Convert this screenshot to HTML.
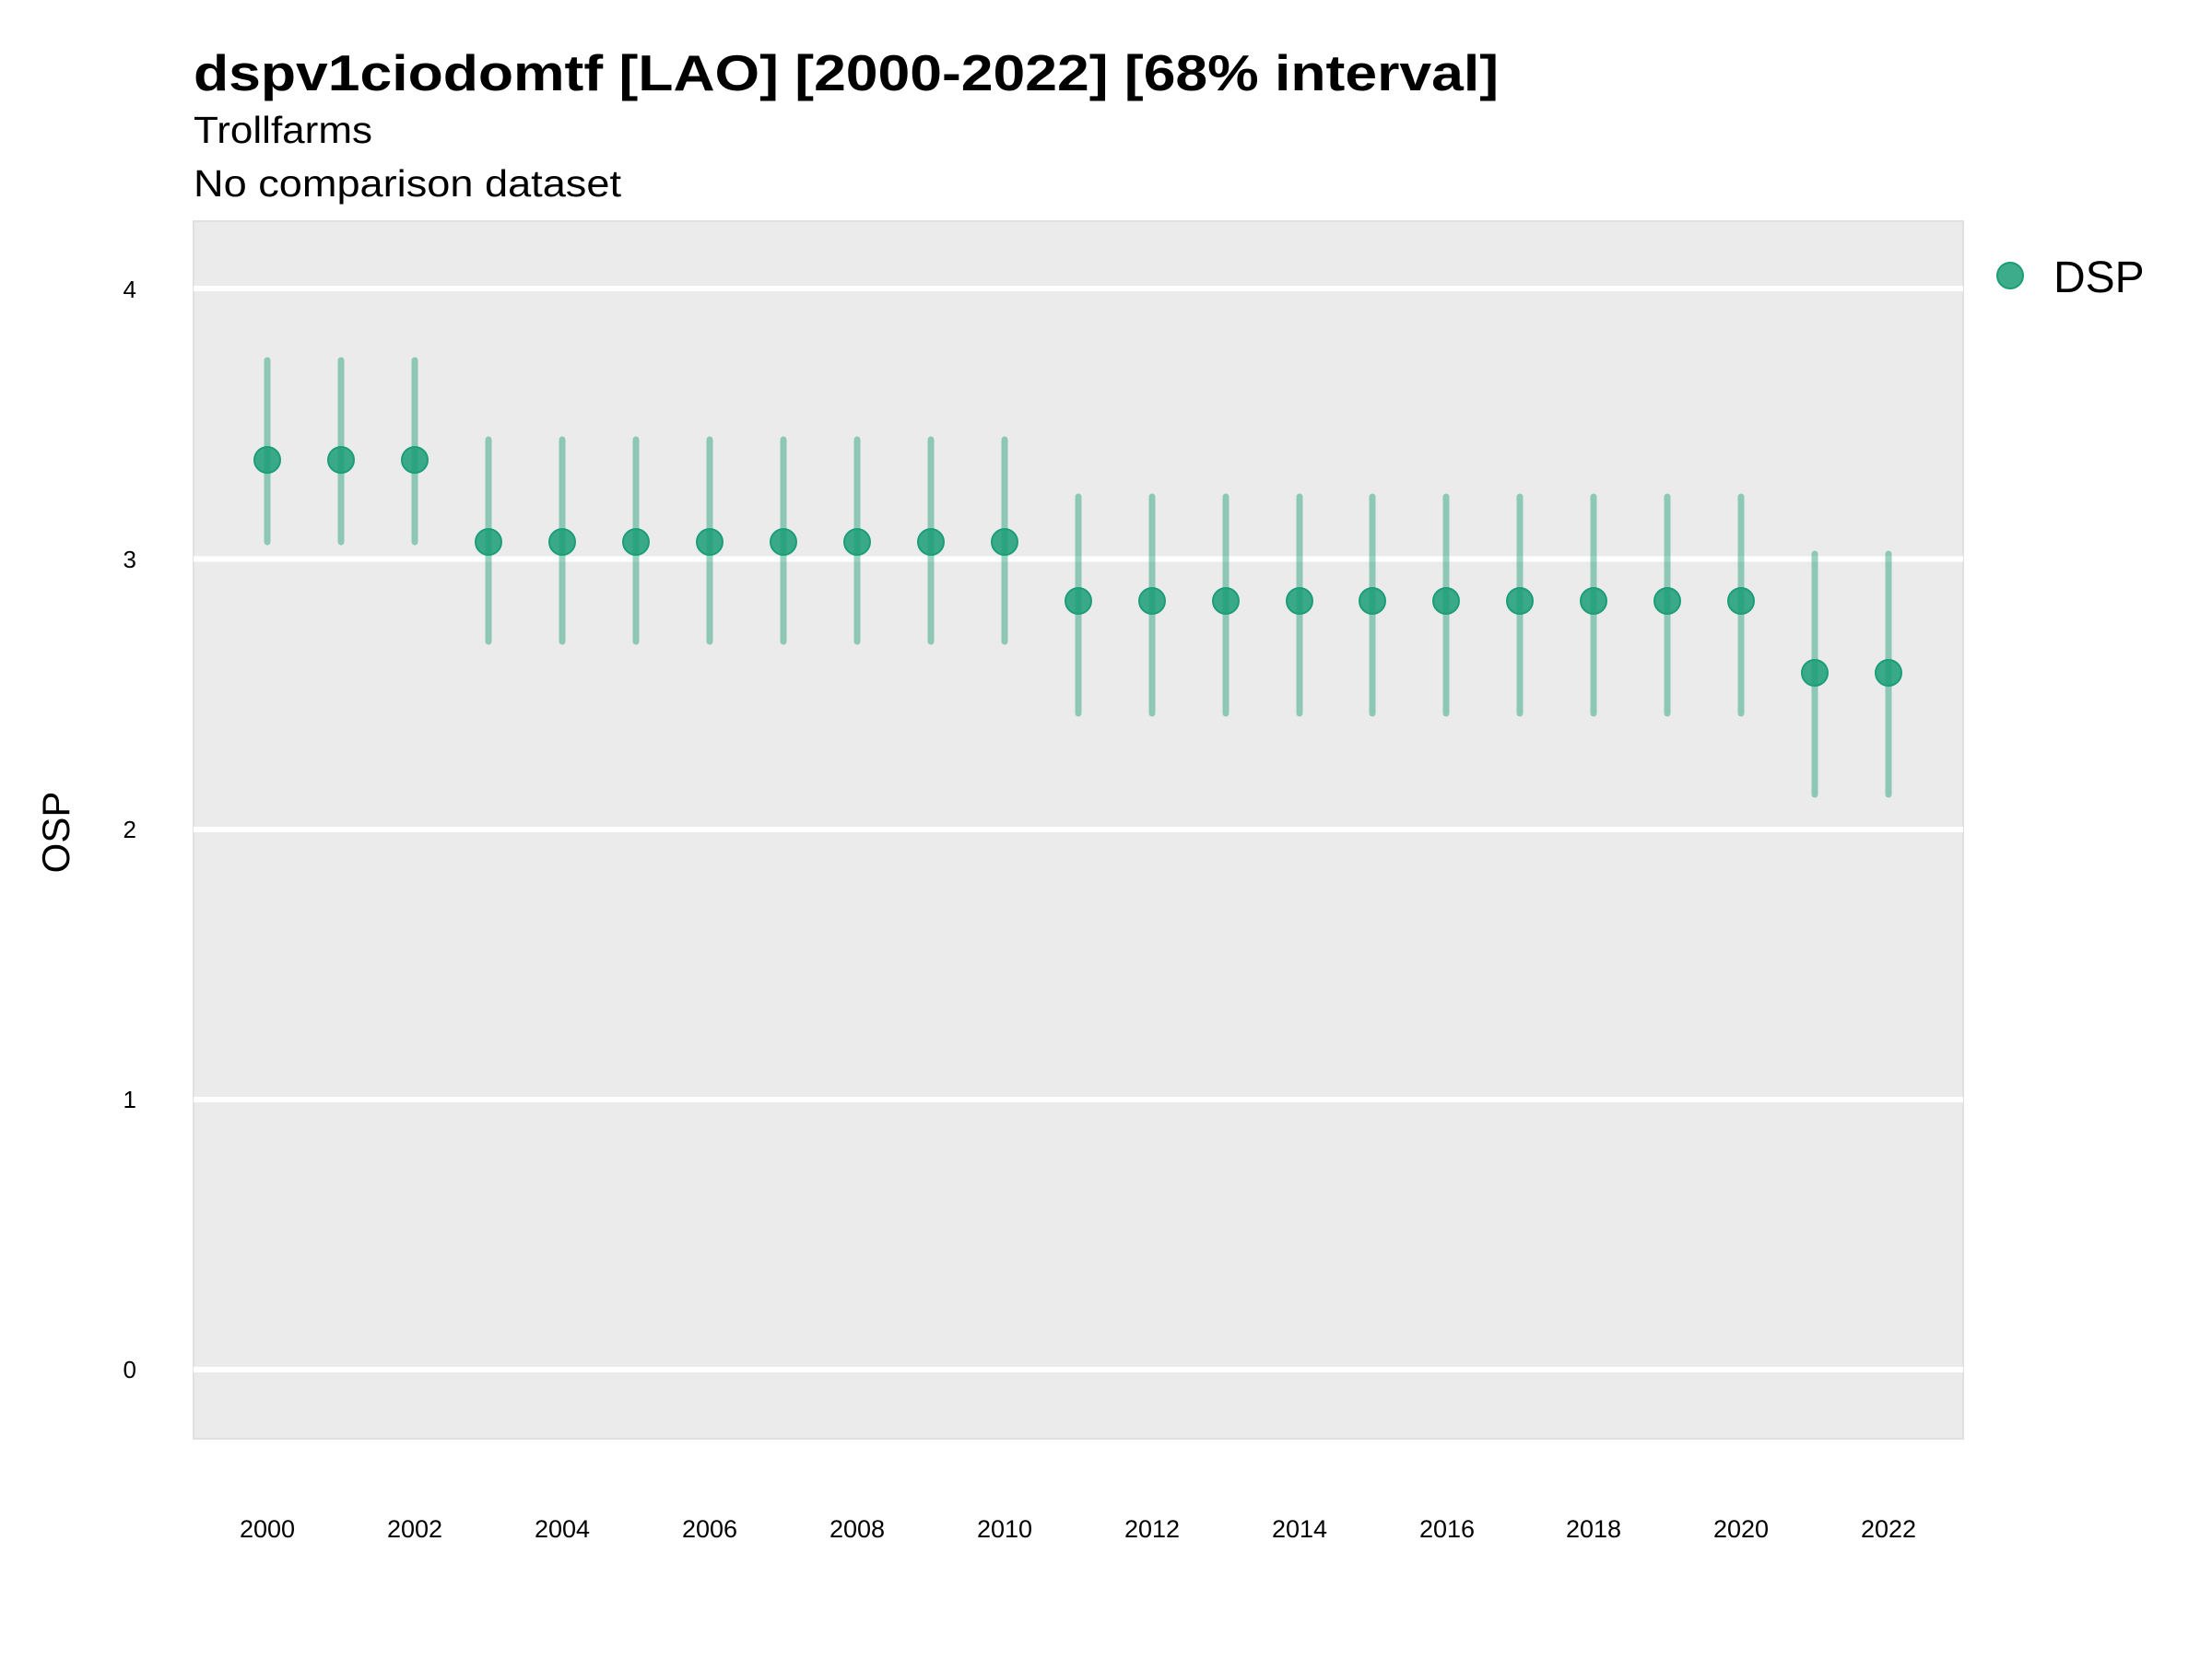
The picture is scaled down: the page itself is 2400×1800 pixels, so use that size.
<!DOCTYPE html>
<html><head><meta charset="utf-8"><style>
body{margin:0;background:#fff}
svg{display:block;font-family:"Liberation Sans",sans-serif}
</style></head><body>
<svg width="2400" height="1800" viewBox="0 0 2400 1800" xmlns="http://www.w3.org/2000/svg">
<rect width="2400" height="1800" fill="#fff"/>
<text x="210" y="98" font-size="55" font-weight="bold" textLength="1416" lengthAdjust="spacingAndGlyphs">dspv1ciodomtf [LAO] [2000-2022] [68% interval]</text>
<text x="210" y="155" font-size="41" textLength="194" lengthAdjust="spacingAndGlyphs">Trollfarms</text>
<text x="210" y="213" font-size="41" textLength="464" lengthAdjust="spacingAndGlyphs">No comparison dataset</text>
<rect x="210" y="240" width="1920" height="1321" fill="#ebebeb" stroke="#e0e0e0" stroke-width="2"/>
<g stroke="#fff" stroke-width="6">
<line x1="210" y1="313" x2="2130" y2="313"/>
<line x1="210" y1="606.5" x2="2130" y2="606.5"/>
<line x1="210" y1="900" x2="2130" y2="900"/>
<line x1="210" y1="1193" x2="2130" y2="1193"/>
<line x1="210" y1="1486" x2="2130" y2="1486"/>
</g>
<g font-size="26" text-anchor="end">
<text x="148" y="323">4</text><text x="148" y="616">3</text><text x="148" y="909">2</text><text x="148" y="1202">1</text><text x="148" y="1495">0</text>
</g>
<text transform="translate(75,903) rotate(-90)" font-size="42" text-anchor="middle">OSP</text>
<g font-size="27" text-anchor="middle">
<text x="290" y="1668">2000</text><text x="450" y="1668">2002</text><text x="610" y="1668">2004</text><text x="770" y="1668">2006</text><text x="930" y="1668">2008</text><text x="1090" y="1668">2010</text><text x="1250" y="1668">2012</text><text x="1410" y="1668">2014</text><text x="1570" y="1668">2016</text><text x="1729" y="1668">2018</text><text x="1889" y="1668">2020</text><text x="2049" y="1668">2022</text>
</g>
<g stroke="rgba(27,158,119,0.45)" stroke-width="7" stroke-linecap="round">
<line x1="290" x2="290" y1="391" y2="588"/>
<line x1="370" x2="370" y1="391" y2="588"/>
<line x1="450" x2="450" y1="391" y2="588"/>
<line x1="530" x2="530" y1="477" y2="696"/>
<line x1="610" x2="610" y1="477" y2="696"/>
<line x1="690" x2="690" y1="477" y2="696"/>
<line x1="770" x2="770" y1="477" y2="696"/>
<line x1="850" x2="850" y1="477" y2="696"/>
<line x1="930" x2="930" y1="477" y2="696"/>
<line x1="1010" x2="1010" y1="477" y2="696"/>
<line x1="1090" x2="1090" y1="477" y2="696"/>
<line x1="1170" x2="1170" y1="539" y2="774"/>
<line x1="1250" x2="1250" y1="539" y2="774"/>
<line x1="1330" x2="1330" y1="539" y2="774"/>
<line x1="1410" x2="1410" y1="539" y2="774"/>
<line x1="1489" x2="1489" y1="539" y2="774"/>
<line x1="1569" x2="1569" y1="539" y2="774"/>
<line x1="1649" x2="1649" y1="539" y2="774"/>
<line x1="1729" x2="1729" y1="539" y2="774"/>
<line x1="1809" x2="1809" y1="539" y2="774"/>
<line x1="1889" x2="1889" y1="539" y2="774"/>
<line x1="1969" x2="1969" y1="601" y2="862"/>
<line x1="2049" x2="2049" y1="601" y2="862"/>
</g>
<g fill="rgba(27,158,119,0.85)" stroke="#1b9e77" stroke-width="2">
<circle cx="290" cy="499" r="14"/><circle cx="370" cy="499" r="14"/><circle cx="450" cy="499" r="14"/>
<circle cx="530" cy="588" r="14"/><circle cx="610" cy="588" r="14"/><circle cx="690" cy="588" r="14"/><circle cx="770" cy="588" r="14"/><circle cx="850" cy="588" r="14"/><circle cx="930" cy="588" r="14"/><circle cx="1010" cy="588" r="14"/><circle cx="1090" cy="588" r="14"/>
<circle cx="1170" cy="652" r="14"/><circle cx="1250" cy="652" r="14"/><circle cx="1330" cy="652" r="14"/><circle cx="1410" cy="652" r="14"/><circle cx="1489" cy="652" r="14"/><circle cx="1569" cy="652" r="14"/><circle cx="1649" cy="652" r="14"/><circle cx="1729" cy="652" r="14"/><circle cx="1809" cy="652" r="14"/><circle cx="1889" cy="652" r="14"/>
<circle cx="1969" cy="730" r="14"/><circle cx="2049" cy="730" r="14"/>
<circle cx="2181" cy="299" r="14"/>
</g>
<text x="2228" y="317" font-size="48">DSP</text>
</svg>
</body></html>
